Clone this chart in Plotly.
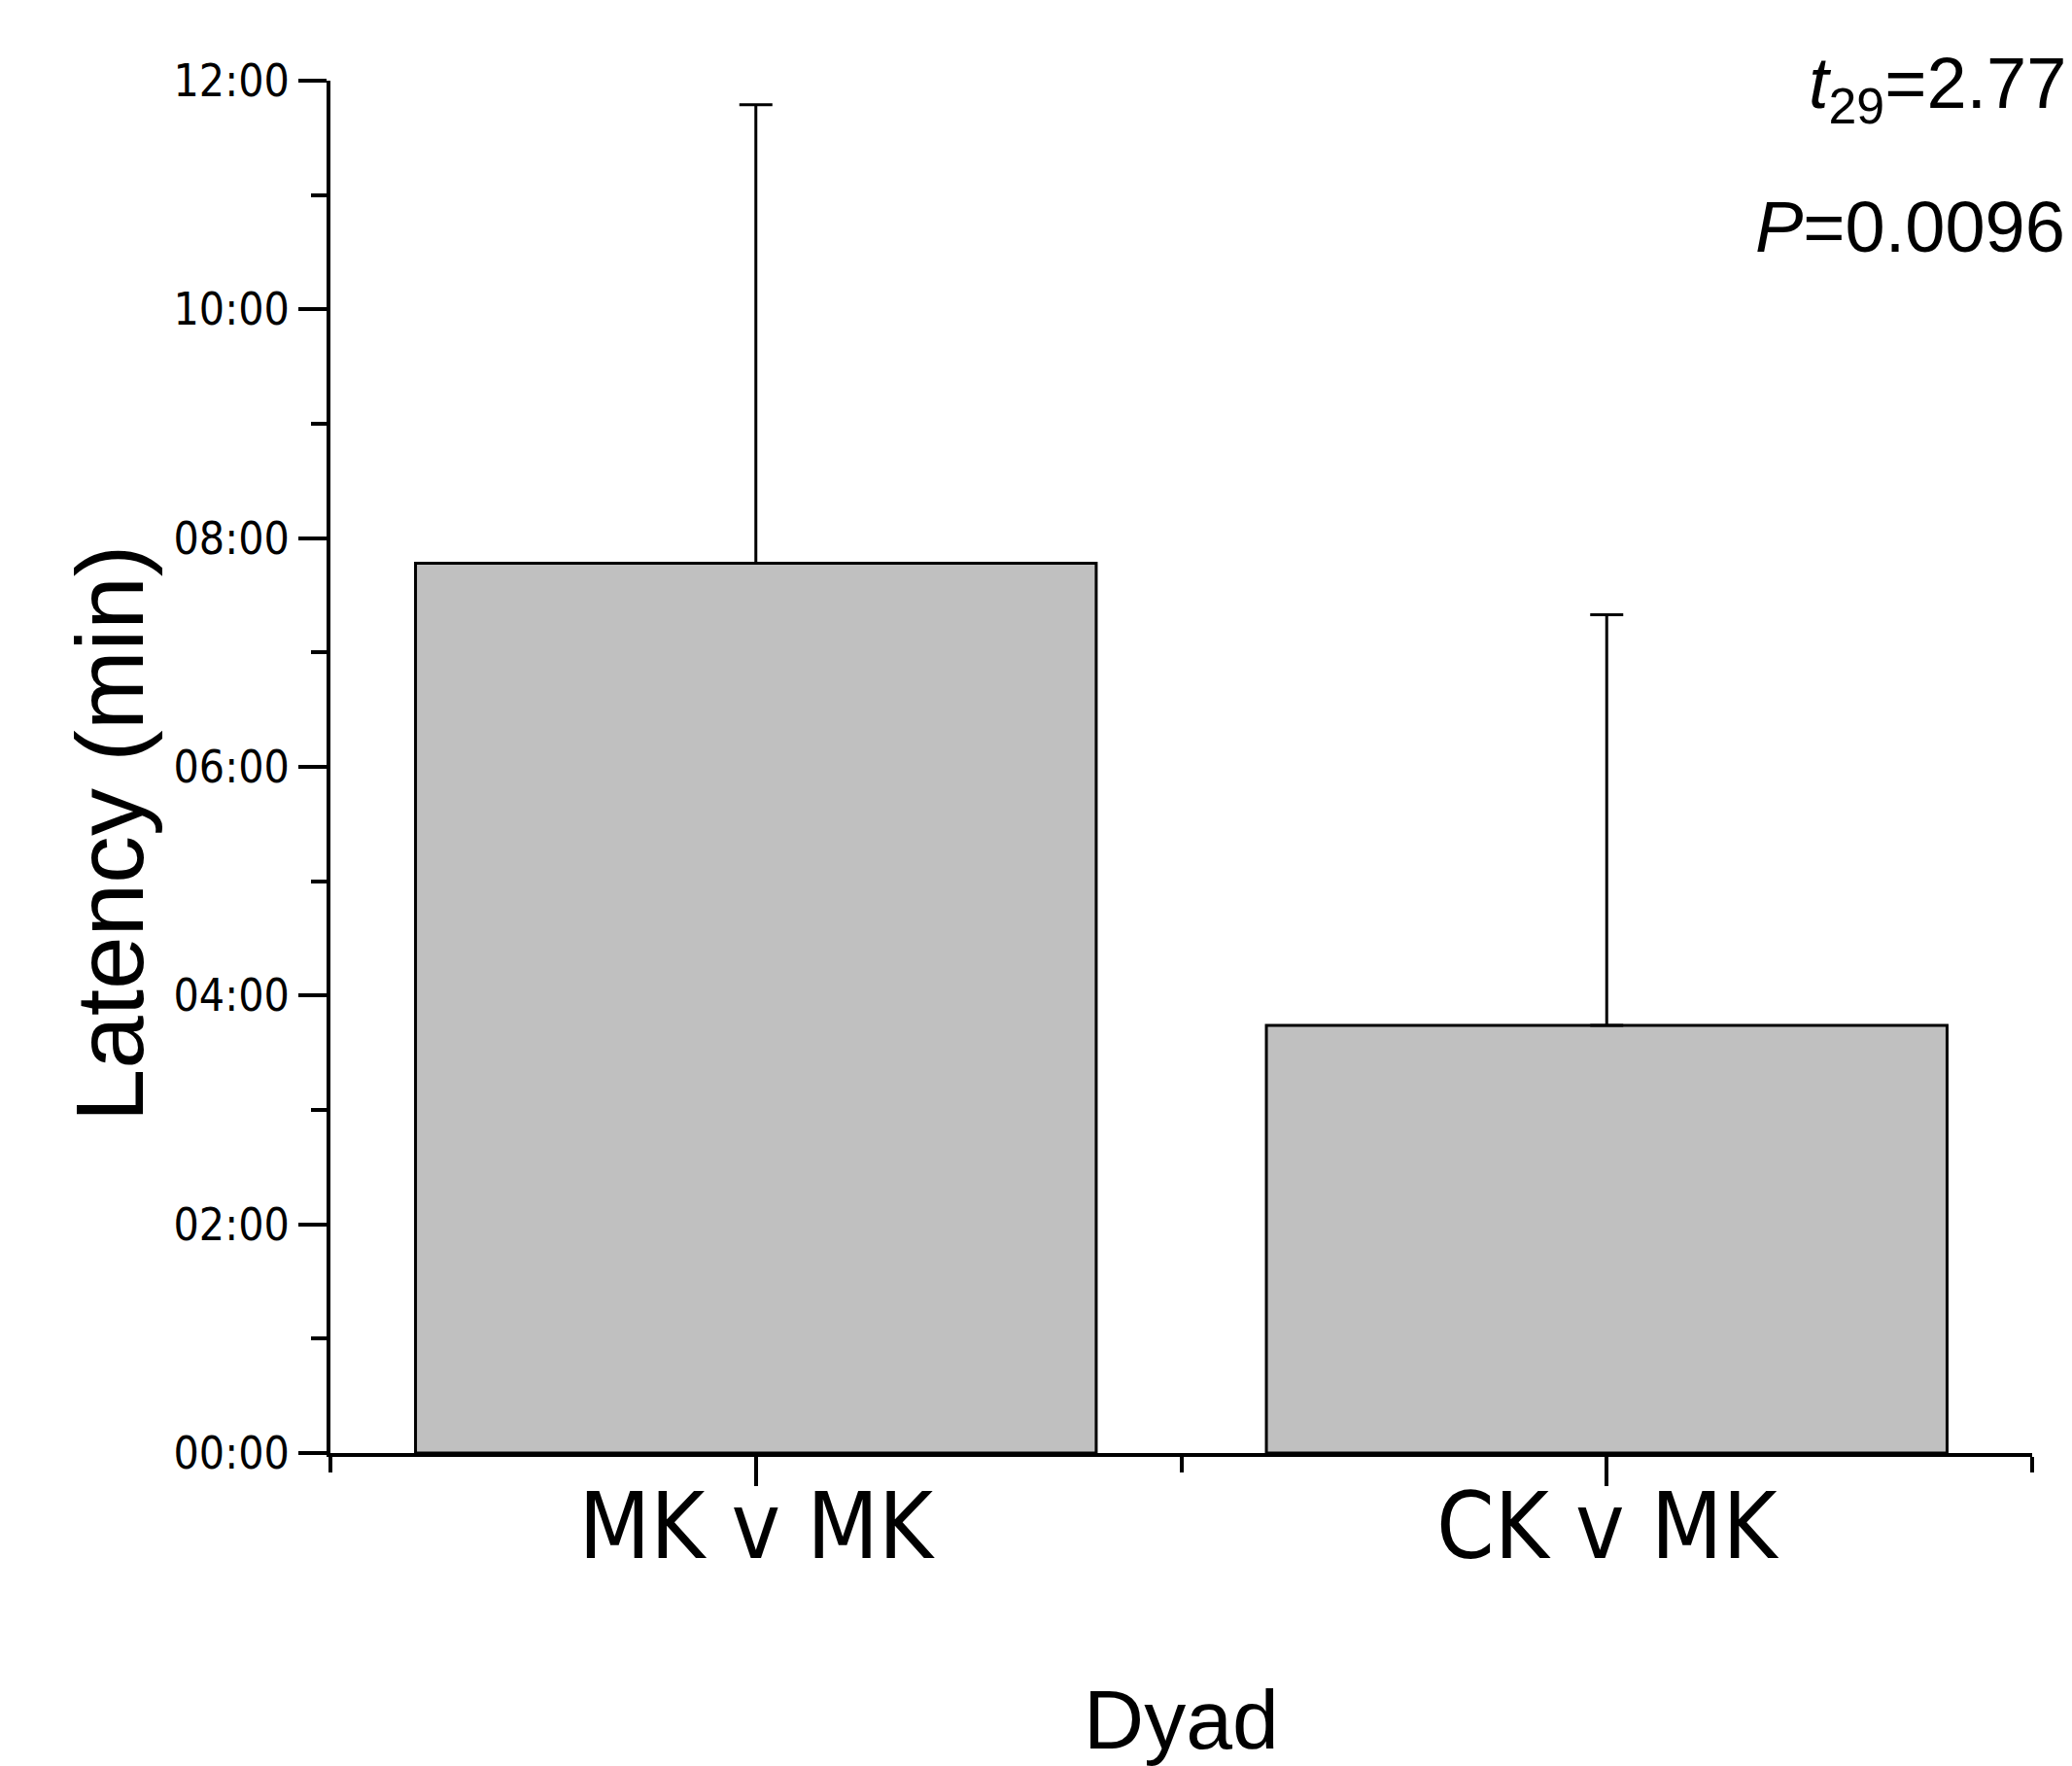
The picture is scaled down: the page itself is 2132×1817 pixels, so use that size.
import plotly.graph_objects as go

categories = ["MK v MK", "CK v MK"]
mean_latency_min = [7.78, 3.74]
sd_latency_min = [4.01, 3.59]
y_tick_values = [0, 2, 4, 6, 8, 10, 12]
y_tick_labels = ["00:00", "02:00", "04:00", "06:00", "08:00", "10:00", "12:00"]
y_title = "Latency (min)"
x_title = "Dyad"
stat_t = "<i>t</i><sub>29</sub>=2.77"
stat_p = "<i>P</i>=0.0096"

xpos = list(range(len(categories)))

fig = go.Figure()
fig.add_trace(go.Bar(
    x=xpos, y=mean_latency_min, width=0.8,
    marker=dict(color="#c0c0c0", line=dict(color="black", width=3)),
    error_y=dict(type="data", symmetric=False, array=sd_latency_min,
                 arrayminus=[0] * len(sd_latency_min),
                 color="black", thickness=3, width=17),
    showlegend=False,
))

narrow = "DejaVu Sans Condensed, Liberation Sans Narrow, Arial Narrow, sans-serif"
sans = "Liberation Sans, Arial, sans-serif"

fig.update_layout(
    width=2132, height=1817,
    margin=dict(l=340, r=41, t=83, b=322, autoexpand=False),
    plot_bgcolor="white", paper_bgcolor="white",
    xaxis=dict(
        range=[-0.5, 1.5], tickmode="array", tickvals=xpos, ticktext=categories,
        automargin=False,
        showline=True, linecolor="black", linewidth=4,
        ticks="outside", ticklen=30, tickwidth=4, tickcolor="black",
        ticklabelstandoff=-40,
        minor=dict(tickmode="array", tickvals=[-0.5, 0.5, 1.5], ticks="outside",
                   ticklen=16, tickwidth=4, tickcolor="black", showgrid=False),
        showgrid=False, zeroline=False,
        tickfont=dict(family=narrow, size=95, color="black"),
        title=dict(text=x_title, font=dict(family=sans, size=86, color="black"), standoff=140),
    ),
    yaxis=dict(
        range=[0, 12], tickmode="array", tickvals=y_tick_values, ticktext=y_tick_labels,
        automargin=False,
        showline=True, linecolor="black", linewidth=4,
        ticks="outside", ticklen=29, tickwidth=4, tickcolor="black",
        minor=dict(dtick=1, tick0=0, ticks="outside", ticklen=16, tickwidth=4,
                   tickcolor="black", showgrid=False),
        showgrid=False, zeroline=False,
        tickfont=dict(family=narrow, size=46, color="black"),
    ),
    annotations=[
        dict(text=y_title, xref="paper", yref="paper", x=-0.130, y=0.452,
             xanchor="center", yanchor="middle", textangle=-90, showarrow=False,
             font=dict(family=sans, size=98, color="black")),
        dict(text=stat_t, xref="paper", yref="paper", x=1.0 + 37 / 1751, y=1.0 - 8 / 1412,
             xanchor="right", yanchor="middle", showarrow=False,
             font=dict(family=sans, size=74, color="black")),
        dict(text=stat_p, xref="paper", yref="paper", x=1.0 + 36 / 1751, y=1.0 - 150 / 1412,
             xanchor="right", yanchor="middle", showarrow=False,
             font=dict(family=sans, size=74, color="black")),
    ],
)

fig.write_html("out.html", config={"displayModeBar": False},
               post_script="document.body.style.margin='0';")
